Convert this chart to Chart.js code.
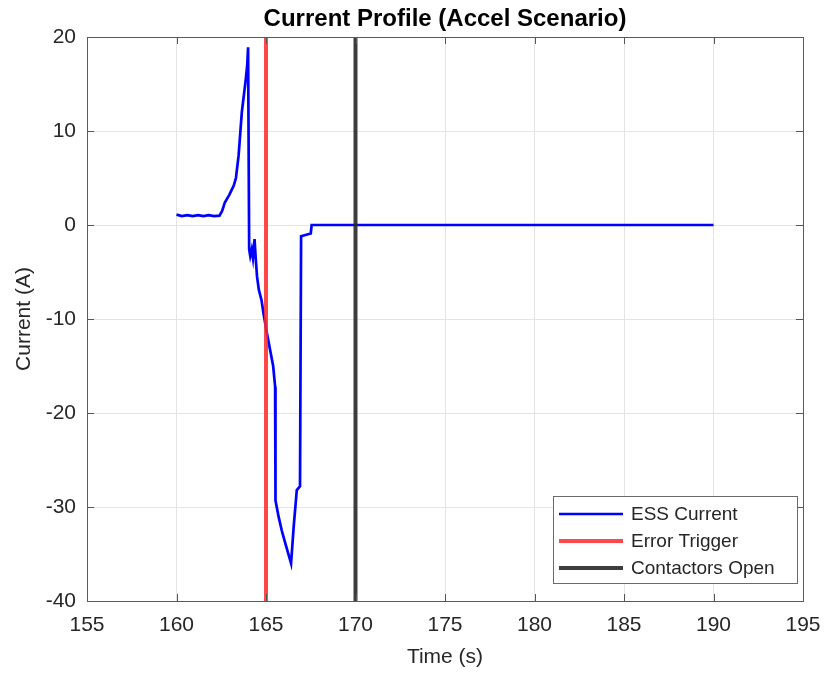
<!DOCTYPE html>
<html><head><meta charset="utf-8">
<script src="https://cdn.jsdelivr.net/npm/chart.js@4/dist/chart.umd.min.js"></script>
<style>html,body{margin:0;padding:0;background:#fff}canvas{display:block}</style>
</head><body>
<canvas id="c" width="828" height="674" style="width:828px;height:674px"></canvas>
<script>
const timeS = [160.0,160.3,160.6,160.9,161.2,161.5,161.8,162.1,162.4,162.55,162.7,162.95,163.2,163.32,163.47,163.65,163.87,163.95,164.0,164.06,164.12,164.2,164.27,164.36,164.43,164.5,164.6,164.75,164.86,165.05,165.23,165.4,165.51,165.53,165.7,165.88,166.1,166.4,166.55,166.72,166.9,166.96,167.5,167.55,190.0];
const currentA = [1.1,0.95,1.05,0.95,1.05,0.95,1.05,0.95,1.0,1.5,2.4,3.2,4.2,5.0,7.4,12.0,15.5,17.0,18.9,-2.6,-3.3,-2.6,-3.5,-1.5,-3.7,-5.5,-6.9,-8.0,-9.4,-11.5,-13.3,-15.0,-17.2,-29.3,-31.0,-32.5,-34.0,-36.0,-32.0,-28.2,-27.8,-1.2,-0.9,0.0,0.0];
const errorTriggerTime = 165;
const contactorsOpenTime = 170;
const xTickValues = [155,160,165,170,175,180,185,190,195];
const yTickValues = [-40,-30,-20,-10,0,10,20];
const seriesLabels = ['ESS Current','Error Trigger','Contactors Open'];
const chartTitle = 'Current Profile (Accel Scenario)';
const xTitle = 'Time (s)';
const yTitle = 'Current (A)';

const FONT = "'Liberation Sans', Arial, Helvetica, sans-serif";
const TXT = '#262626';

const yMin = yTickValues[0], yMax = yTickValues[yTickValues.length-1];
const xMin = xTickValues[0], xMax = xTickValues[xTickValues.length-1];

const essData = timeS.map((t,i)=>({x:t,y:currentA[i]}));
const errData = [{x:errorTriggerTime,y:yMin},{x:errorTriggerTime,y:yMax}];
const conData = [{x:contactorsOpenTime,y:yMin},{x:contactorsOpenTime,y:yMax}];

const legendStyles = [
  {color:'#0000ff', width:2.7},
  {color:'rgba(255,40,40,0.85)', width:4},
  {color:'rgba(40,40,40,0.9)', width:4}
];

const framePlugin = {
  id:'frame',
  afterDraw(chart){
    const {ctx, chartArea:a, scales} = chart;
    ctx.save();
    ctx.strokeStyle = '#555';
    ctx.lineWidth = 1;
    const tl = 7;
    ctx.beginPath();
    xTickValues.forEach(v=>{
      const x = Math.round(scales.x.getPixelForValue(v))+0.5;
      ctx.moveTo(x,a.bottom); ctx.lineTo(x,a.bottom-tl);
      ctx.moveTo(x,a.top); ctx.lineTo(x,a.top+tl);
    });
    yTickValues.forEach(v=>{
      const y = Math.round(scales.y.getPixelForValue(v))+0.5;
      ctx.moveTo(a.left,y); ctx.lineTo(a.left+tl,y);
      ctx.moveTo(a.right,y); ctx.lineTo(a.right-tl,y);
    });
    ctx.stroke();
    ctx.strokeStyle = '#5a5a5a';
    ctx.strokeRect(Math.round(a.left)+0.5, Math.round(a.top)+0.5, Math.round(a.right-a.left), Math.round(a.bottom-a.top));
    ctx.fillStyle = '#000';
    ctx.font = 'bold 24px ' + FONT;
    ctx.textAlign = 'center';
    ctx.textBaseline = 'middle';
    ctx.fillText(chartTitle, (a.left+a.right)/2, 19);
    const lx = 553, ly = 496, lw = 244, lh = 87;
    ctx.fillStyle = '#fff';
    ctx.fillRect(lx, ly, lw, lh);
    ctx.strokeStyle = '#6a6a6a';
    ctx.lineWidth = 1;
    ctx.strokeRect(lx+0.5, ly+0.5, lw, lh);
    const rows = [514, 541, 568];
    ctx.font = '19px ' + FONT;
    ctx.textAlign = 'left';
    seriesLabels.forEach((lab,i)=>{
      const st = legendStyles[i];
      ctx.strokeStyle = st.color;
      ctx.lineWidth = st.width;
      ctx.beginPath();
      ctx.moveTo(559, rows[i]); ctx.lineTo(623, rows[i]);
      ctx.stroke();
      ctx.fillStyle = TXT;
      ctx.fillText(lab, 631, rows[i]+1);
    });
    ctx.restore();
  }
};

new Chart(document.getElementById('c'), {
  type:'scatter',
  data:{datasets:[
    {label:seriesLabels[0], data:essData, showLine:true, borderColor:legendStyles[0].color, borderWidth:legendStyles[0].width, pointRadius:0, tension:0, order:2},
    {label:seriesLabels[1], data:errData, showLine:true, borderColor:legendStyles[1].color, borderWidth:legendStyles[1].width, pointRadius:0, order:1},
    {label:seriesLabels[2], data:conData, showLine:true, borderColor:legendStyles[2].color, borderWidth:legendStyles[2].width, pointRadius:0, order:0}
  ]},
  options:{
    responsive:false,
    animation:false,
    devicePixelRatio:1,
    layout:{padding:{top:37,right:25,left:0,bottom:0}},
    plugins:{legend:{display:false}, title:{display:false}, tooltip:{enabled:false}},
    scales:{
      x:{
        type:'linear', min:xMin, max:xMax,
        afterBuildTicks(s){ s.ticks = xTickValues.map(v=>({value:v})); },
        afterFit(s){ s.height = 73; s.paddingLeft = 0; s.paddingRight = 0; },
        grid:{color:'#e4e4e4', drawTicks:false},
        border:{display:false},
        ticks:{color:TXT, font:{family:FONT, size:21}, padding:12, maxRotation:0, autoSkip:false},
        title:{display:true, text:xTitle, color:TXT, font:{family:FONT, size:21}, padding:{top:0,bottom:4}}
      },
      y:{
        type:'linear', min:yMin, max:yMax,
        afterBuildTicks(s){ s.ticks = yTickValues.map(v=>({value:v})); },
        afterFit(s){ s.width = 87; s.paddingTop = 0; s.paddingBottom = 0; },
        grid:{color:'#e4e4e4', drawTicks:false},
        border:{display:false},
        ticks:{color:TXT, font:{family:FONT, size:21}, padding:11, autoSkip:false},
        title:{display:true, text:yTitle, color:TXT, font:{family:FONT, size:21}, padding:{top:12,bottom:0}}
      }
    }
  },
  plugins:[framePlugin]
});
</script>
</body></html>
